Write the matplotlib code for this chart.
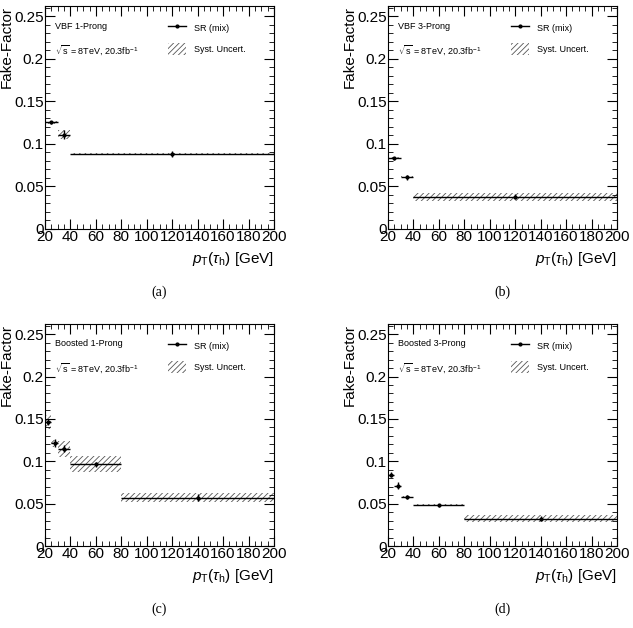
import matplotlib
matplotlib.use('Agg')
import matplotlib.pyplot as plt
from matplotlib.lines import Line2D
from matplotlib.patches import Patch
from matplotlib.ticker import MultipleLocator
import numpy as np

plt.rcParams['font.family'] = ['Liberation Sans', 'DejaVu Sans']
plt.rcParams['mathtext.fontset'] = 'custom'
plt.rcParams['mathtext.rm'] = 'Liberation Sans'
plt.rcParams['mathtext.it'] = 'Liberation Sans:italic'
plt.rcParams['hatch.linewidth'] = 0.6

# bin edges per category
vbf_edges = [20, 30, 40, 200]
boost_edges = [20, 25, 30, 40, 80, 200]

# VBF 1-prong
vbf1_ff = [0.1252, 0.1108, 0.0881]
vbf1_stat = [0.002, 0.005, 0.004]
vbf1_syst = [0.002, 0.005, 0.0012]

# VBF 3-prong
vbf3_ff = [0.0831, 0.0608, 0.0378]
vbf3_stat = [0.002, 0.003, 0.003]
vbf3_syst = [0.001, 0.001, 0.005]

# Boosted 1-prong
boost1_ff = [0.1463, 0.1213, 0.1150, 0.0967, 0.0570]
boost1_stat = [0.004, 0.005, 0.004, 0.003, 0.004]
boost1_syst = [0.008, 0.004, 0.0095, 0.009, 0.0055]

# Boosted 3-prong
boost3_ff = [0.0839, 0.0714, 0.0577, 0.0480, 0.0324]
boost3_stat = [0.003, 0.004, 0.002, 0.002, 0.003]
boost3_syst = [0.001, 0.001, 0.001, 0.001, 0.0045]

panels = [
    ('VBF 1-Prong', vbf_edges, vbf1_ff, vbf1_stat, vbf1_syst, '(a)'),
    ('VBF 3-Prong', vbf_edges, vbf3_ff, vbf3_stat, vbf3_syst, '(b)'),
    ('Boosted 1-Prong', boost_edges, boost1_ff, boost1_stat, boost1_syst, '(c)'),
    ('Boosted 3-Prong', boost_edges, boost3_ff, boost3_stat, boost3_syst, '(d)'),
]

W, H = 633, 628
fig = plt.figure(figsize=(W / 100, H / 100), dpi=100)

# axes boxes in pixels: left, top, right, bottom
boxes = [(45, 6, 274, 229), (388, 6, 617, 229),
         (45, 324, 274, 546), (388, 324, 617, 546)]

for (name, edges, ff, stat, syst, tag), (l, t, r, b) in zip(panels, boxes):
    ax = fig.add_axes([l / W, 1 - b / H, (r - l) / W, (b - t) / H])
    edges = np.array(edges, dtype=float)
    centers = 0.5 * (edges[1:] + edges[:-1])
    half = 0.5 * (edges[1:] - edges[:-1])
    ff = np.array(ff)
    syst = np.array(syst)

    ax.bar(centers, 2 * syst, bottom=ff - syst, width=2 * half,
           fill=False, hatch='//////', edgecolor='#555555', linewidth=0)
    ax.errorbar(centers, ff, xerr=half, yerr=stat, fmt='o', ms=2,
                color='black', lw=1, capsize=0)

    ax.set_xlim(20, 200)
    ax.set_ylim(0, 0.262)
    ax.xaxis.set_major_locator(MultipleLocator(20))
    ax.xaxis.set_minor_locator(MultipleLocator(5))
    ax.yaxis.set_minor_locator(MultipleLocator(0.01))
    ax.set_yticks([0, 0.05, 0.1, 0.15, 0.2, 0.25])
    ax.set_yticklabels(['0', '0.05', '0.1', '0.15', '0.2', '0.25'])
    ax.tick_params(which='both', direction='in', top=True, right=True,
                   labelsize=11, pad=1)
    ax.tick_params(which='major', length=7)
    ax.tick_params(which='minor', length=3.5)

    ax.set_ylabel('Fake-Factor', fontsize=11, loc='top')
    ax.yaxis.set_label_coords(-0.135, 1.0)
    ax.set_xlabel(r'$p_{\mathrm{T}}(\tau_{\mathrm{h}})$ [GeV]', fontsize=11,
                  loc='right', labelpad=4)

    ax.text(0.044, 0.91, name, transform=ax.transAxes, fontsize=6.5,
            va='center')
    ax.text(0.044, 0.803, r'$\sqrt{\mathrm{s}}$ = 8TeV, 20.3fb$^{\mathrm{-1}}$',
            transform=ax.transAxes, fontsize=6.5, va='center')

    handles = [Line2D([], [], color='black', marker='o', ms=2, lw=1),
               Patch(facecolor='white', edgecolor='#555555', hatch='//////',
                     linewidth=0)]
    ax.legend(handles, ['SR (mix)', 'Syst. Uncert.'], loc='upper left',
              bbox_to_anchor=(0.5, 0.965), frameon=False, fontsize=6.5,
              handlelength=2.0, handleheight=1.7, labelspacing=0.95,
              handletextpad=0.9)

    fig.text((l + r) / 2 / W, 1 - (b + 63) / H, tag, family='Liberation Serif',
             fontsize=10, ha='center', va='center')

fig.savefig('out.png', dpi=100)
